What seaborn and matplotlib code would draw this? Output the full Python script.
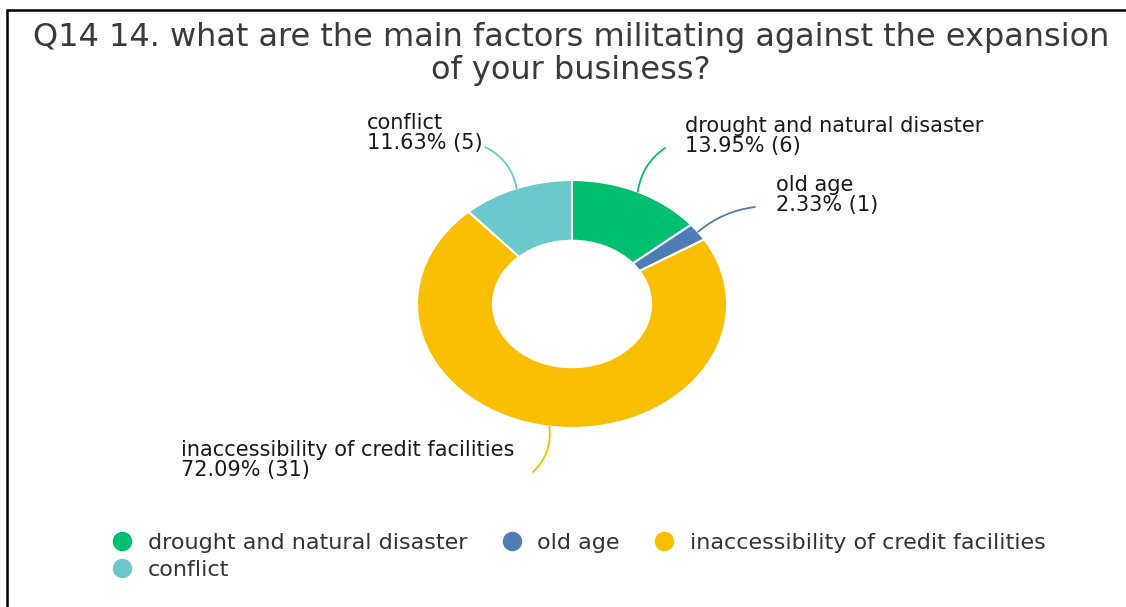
import matplotlib
matplotlib.use("Agg")
import matplotlib.pyplot as plt
from matplotlib.lines import Line2D
import numpy as np
import seaborn as sns

# Survey responses
categories = ["drought and natural disaster", "old age",
              "inaccessibility of credit facilities", "conflict"]
counts = [6, 1, 31, 5]
colors = ["#00BF6F", "#507CB6", "#F9BE00", "#6BC8CD"]
title = "Q14 14. what are the main factors militating against the expansion\nof your business?"

sns.set_theme(style="white")
plt.rcParams["font.family"] = ["DejaVu Sans"]
palette = sns.color_palette(colors)

W, H = 1126, 607
fig = plt.figure(figsize=(W / 100, H / 100), dpi=100)
fig.patch.set_facecolor("white")

# Donut axes, stretched horizontally
cx, cy, rx, ry = 572, 304, 155, 124
ax = fig.add_axes([(cx - rx) / W, (H - cy - ry) / H, 2 * rx / W, 2 * ry / H])
wedges, _ = ax.pie(counts, colors=palette, startangle=90, counterclock=False,
                   radius=1.0, wedgeprops=dict(width=0.49, edgecolor="white", linewidth=1.5))
ax.set_aspect("auto")
ax.set_xlim(-1, 1)
ax.set_ylim(-1, 1)
ax.axis("off")

total = sum(counts)
# label block positions (left x, top-line centre y) and leader end points, in image pixels
label_pos = [(685, 127), (776, 186), (181, 451), (367, 124)]
leader_end = [(665, 148), (755, 207), (533, 472), (485, 147)]
leader_rad = [0.22, 0.15, 0.25, -0.25]

for w, n, name, col, (tx, ty), (ex, ey), rad in zip(
        wedges, counts, categories, palette, label_pos, leader_end, leader_rad):
    mid = np.deg2rad((w.theta1 + w.theta2) / 2)
    px, py = np.cos(mid), np.sin(mid)
    ax.annotate("", xy=(px, py), xycoords="data",
                xytext=(ex, H - ey), textcoords="figure pixels",
                arrowprops=dict(arrowstyle="-", color=col, lw=1.3,
                                shrinkA=0, shrinkB=0,
                                connectionstyle=f"arc3,rad={rad}"))
    fig.text(tx / W, (H - ty + 11) / H,
             f"{name}\n{100 * n / total:.2f}% ({n})",
             ha="left", va="top", fontsize=15, color="#1a1a1a", linespacing=0.98)

fig.text(571 / W, 1 - 22 / H, title, ha="center", va="top",
         fontsize=23, color="#3a3a3a", linespacing=1.1)

# Legend in row-major order across three columns
handles = [Line2D([0], [0], marker="o", linestyle="", markersize=13,
                  markerfacecolor=c, markeredgecolor=c) for c in palette]
order = [0, 3, 1, 2]
leg = fig.legend([handles[i] for i in order], [categories[i] for i in order],
                 ncol=3, loc="upper left", bbox_to_anchor=(102 / W, 1 - 522 / H),
                 frameon=False, fontsize=16, handlelength=0.8, handletextpad=0.75,
                 columnspacing=1.6, labelspacing=0.3, borderpad=0)
for t in leg.get_texts():
    t.set_color("#333333")

# Frame lines along top and left edges
fig.add_artist(Line2D([7 / W, 1], [1 - 10 / H, 1 - 10 / H], color="black", lw=1.8,
                      transform=fig.transFigure))
fig.add_artist(Line2D([7 / W, 7 / W], [0, 1 - 10 / H], color="black", lw=1.8,
                      transform=fig.transFigure))

fig.savefig("out.png", dpi=100, facecolor="white")
